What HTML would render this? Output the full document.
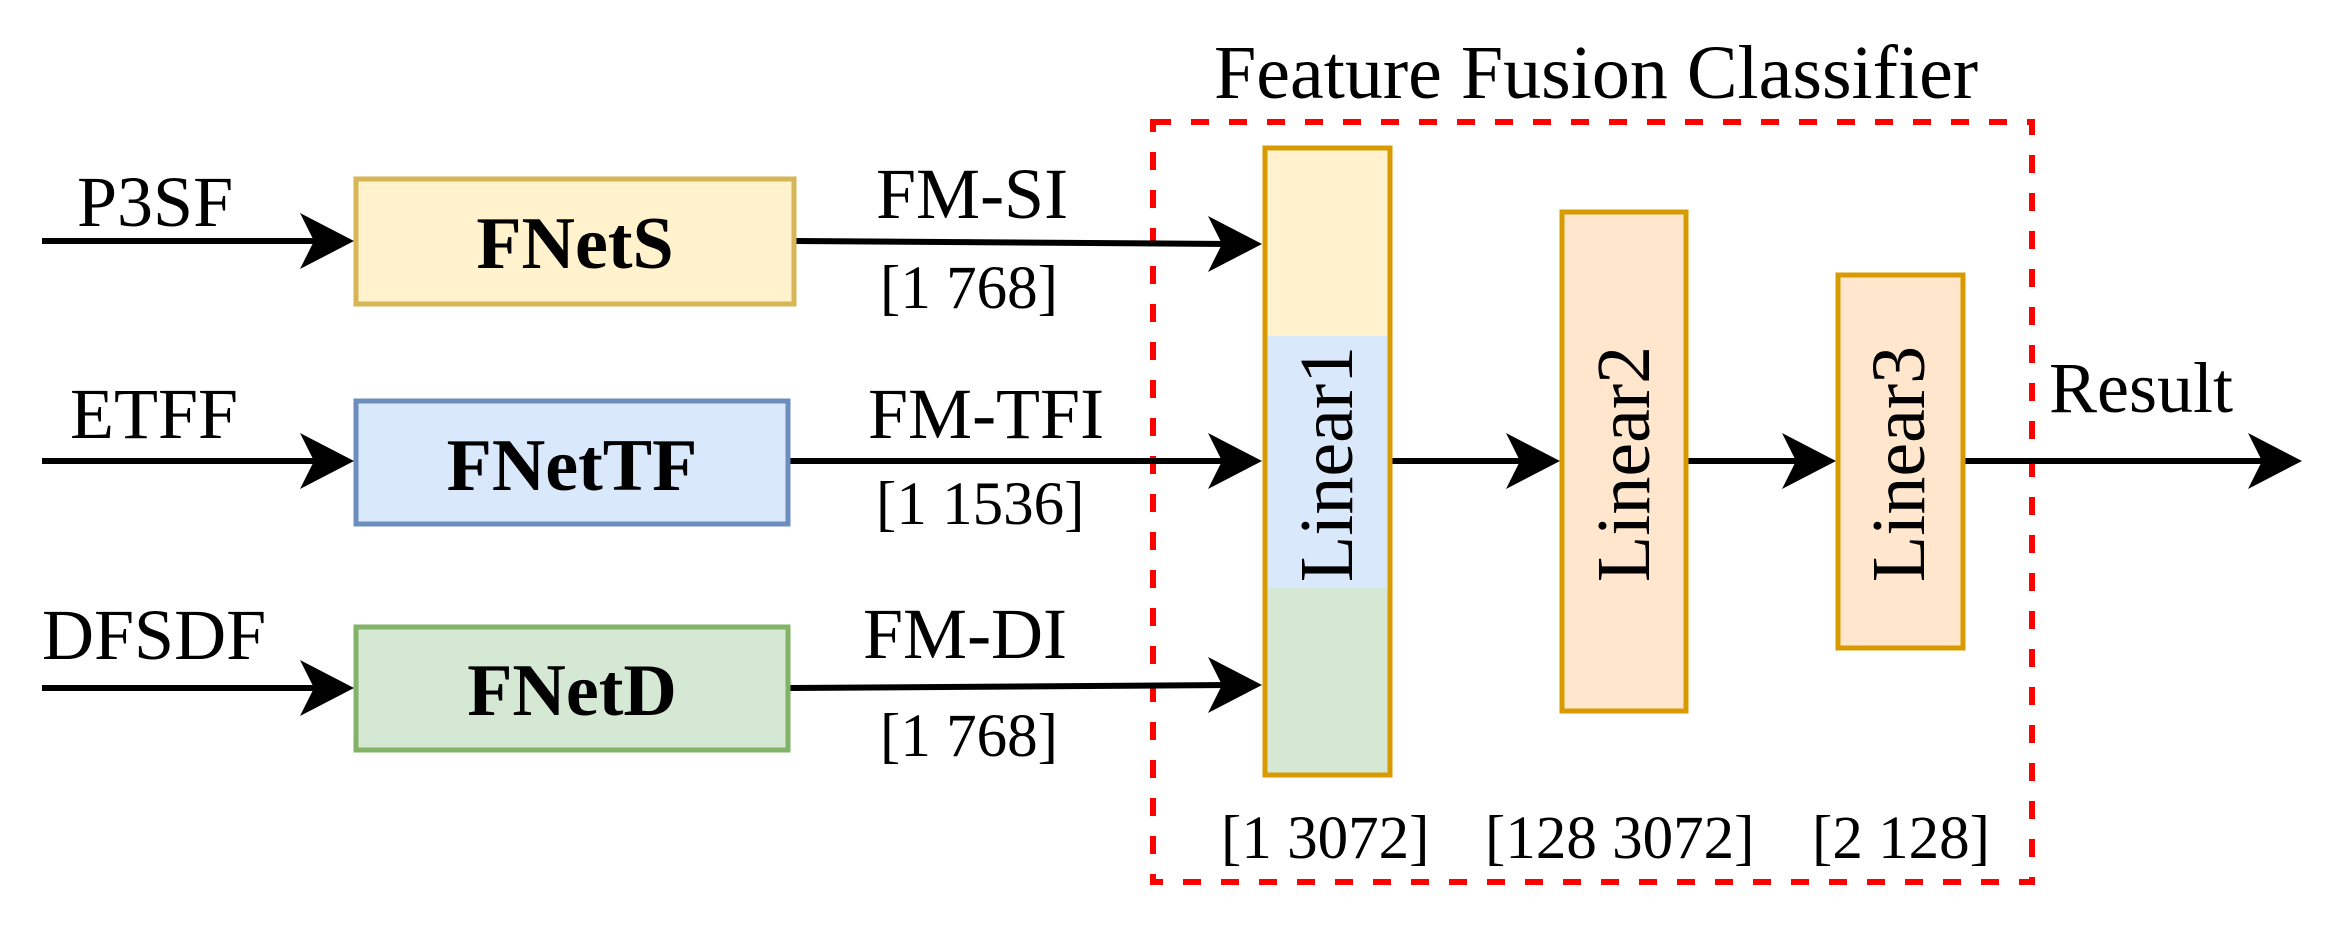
<!DOCTYPE html>
<html><head><meta charset="utf-8"><style>
html,body{margin:0;padding:0;background:#fff;}
svg{display:block;}
text{font-family:"Liberation Serif",serif;fill:#000;}
</style></head><body>
<svg width="2330" height="933" viewBox="0 0 2330 933" xmlns="http://www.w3.org/2000/svg">
<defs>
<path id="ah" d="M0,0 L-54,-28 L-40,0 L-54,28 Z" fill="#000"/>
</defs>
<rect x="1153" y="122" width="879" height="760" fill="none" stroke="#ff0000" stroke-width="6" stroke-dasharray="18,20"/>
<text x="1214" y="98" font-size="76">Feature Fusion Classifier</text>

<g stroke="#000" stroke-width="6">
<line x1="42" y1="241" x2="320" y2="241"/>
<line x1="42" y1="461" x2="320" y2="461"/>
<line x1="42" y1="688" x2="320" y2="688"/>
<line x1="796" y1="241" x2="1230" y2="244"/>
<line x1="790" y1="461" x2="1230" y2="461"/>
<line x1="790" y1="688" x2="1230" y2="685"/>
<line x1="1392" y1="461" x2="1530" y2="461"/>
<line x1="1688" y1="461" x2="1806" y2="461"/>
<line x1="1965" y1="461" x2="2270" y2="461"/>
</g>
<use href="#ah" x="354" y="241"/>
<use href="#ah" x="354" y="461"/>
<use href="#ah" x="354" y="688"/>
<use href="#ah" x="1262" y="244"/>
<use href="#ah" x="1262" y="461"/>
<use href="#ah" x="1262" y="685"/>
<use href="#ah" x="1560" y="461"/>
<use href="#ah" x="1836" y="461"/>
<use href="#ah" x="2302" y="461"/>

<text x="77" y="226" font-size="72">P3SF</text>
<text x="70" y="438" font-size="72">ETFF</text>
<text x="42" y="659" font-size="72">DFSDF</text>

<rect x="356" y="179" width="438" height="125" fill="#fff2cc" stroke="#d6b656" stroke-width="5"/>
<rect x="356" y="401" width="432" height="123" fill="#dae8fc" stroke="#6c8ebf" stroke-width="5"/>
<rect x="356" y="627" width="432" height="123" fill="#d5e8d4" stroke="#82b366" stroke-width="5"/>
<text x="575" y="268" font-size="74" font-weight="bold" text-anchor="middle">FNetS</text>
<text x="572" y="490" font-size="74" font-weight="bold" text-anchor="middle">FNetTF</text>
<text x="572" y="715" font-size="74" font-weight="bold" text-anchor="middle">FNetD</text>

<text x="876" y="218" font-size="72">FM-SI</text>
<text x="880" y="308" font-size="61">[1 768]</text>
<text x="868" y="438" font-size="72">FM-TFI</text>
<text x="876" y="524" font-size="61">[1 1536]</text>
<text x="863" y="658" font-size="72">FM-DI</text>
<text x="880" y="756" font-size="61">[1 768]</text>

<rect x="1265" y="148" width="125" height="188" fill="#fff2cc"/>
<rect x="1265" y="336" width="125" height="252" fill="#dae8fc"/>
<rect x="1265" y="588" width="125" height="187" fill="#d5e8d4"/>
<rect x="1265" y="148" width="125" height="627" fill="none" stroke="#d79b00" stroke-width="5"/>
<text transform="translate(1352,464) rotate(-90)" font-size="76" text-anchor="middle">Linear1</text>

<rect x="1562" y="212" width="124" height="499" fill="#ffe6cc" stroke="#d79b00" stroke-width="5"/>
<text transform="translate(1649,464) rotate(-90)" font-size="76" text-anchor="middle">Linear2</text>
<rect x="1838" y="275" width="125" height="373" fill="#ffe6cc" stroke="#d79b00" stroke-width="5"/>
<text transform="translate(1924,464) rotate(-90)" font-size="76" text-anchor="middle">Linear3</text>

<text x="2049" y="412" font-size="72">Result</text>

<text x="1221" y="858" font-size="61">[1 3072]</text>
<text x="1485" y="858" font-size="61">[128 3072]</text>
<text x="1812" y="858" font-size="61">[2 128]</text>
</svg>
</body></html>
